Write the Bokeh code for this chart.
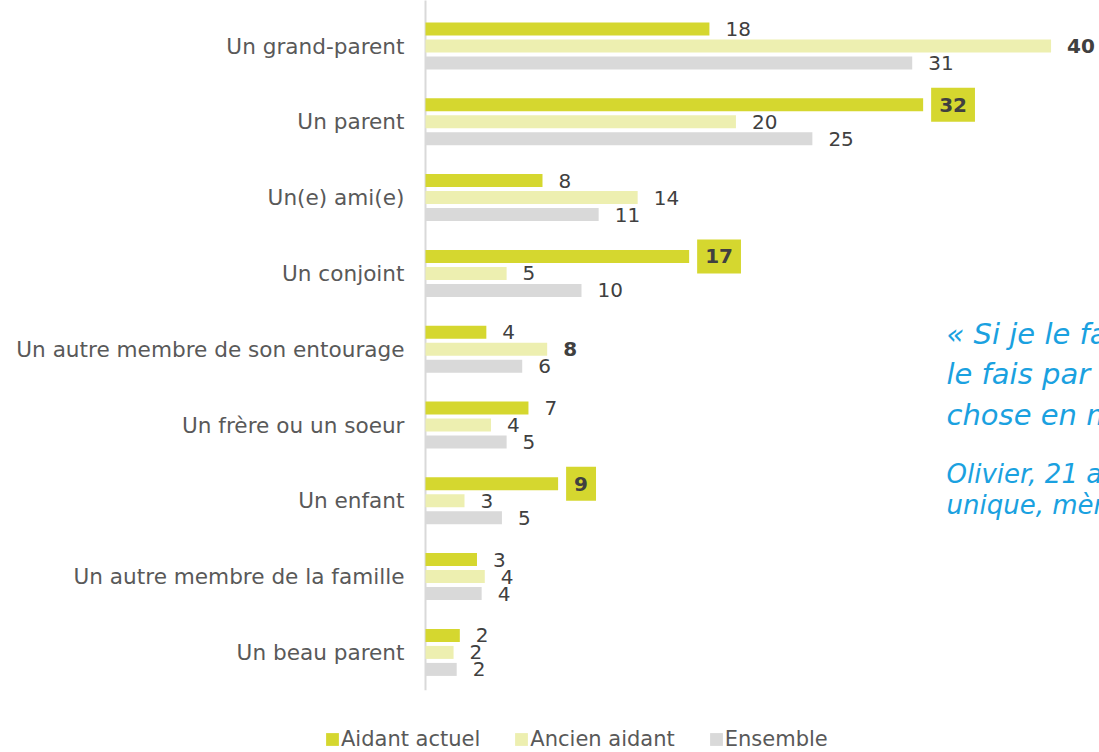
from bokeh.plotting import figure
from bokeh.models import Range1d, ColumnDataSource, Legend, LegendItem
from bokeh.embed import file_html
from bokeh.resources import INLINE
from bokeh.core.properties import value

# ---------------- data ----------------
categories = ["Un grand-parent", "Un parent", "Un(e) ami(e)", "Un conjoint",
              "Un autre membre de son entourage", "Un frère ou un soeur", "Un enfant",
              "Un autre membre de la famille", "Un beau parent"]
aidant_actuel = [18.2, 31.9, 7.5, 16.9, 3.9, 6.6, 8.5, 3.3, 2.2]
ancien_aidant = [40.1, 19.9, 13.6, 5.2, 7.8, 4.2, 2.5, 3.8, 1.8]
ensemble = [31.2, 24.8, 11.1, 10.0, 6.2, 5.2, 4.9, 3.6, 2.0]
series_names = ["Aidant actuel", "Ancien aidant", "Ensemble"]

quote_lines = ["« Si je le fais, c'est que je", "le fais par amour, c'est quelque", "chose en moi. »"]
author_lines = ["Olivier, 21 ans, fils", "unique, mère malade"]

# ---------------- styles ----------------
colors = ["#d5d72f", "#edefb0", "#d9d9d9"]
boxed = {(0, "Un parent"), (0, "Un conjoint"), (0, "Un enfant")}
bold = {(1, "Un grand-parent"), (1, "Un autre membre de son entourage")}
FONT = "DejaVu Sans"
LABEL_COLOR = "#404040"
CAT_COLOR = "#595959"
QUOTE_COLOR = "#1aa1e0"

W, H = 1099, 752
AXIS_PX = 425          # x pixel of the zero line
GROUP_PX = 75.8
BAR_GAP_PX = 17.0
BAR_H_PX = 13.0
PX_PER_UNIT = 15.6
TOP_CENTER_PX = 45.5   # centre of first group from the top

n = len(categories)
y_start = (H - TOP_CENTER_PX) / GROUP_PX
y_end = -TOP_CENTER_PX / GROUP_PX
x_start = -AXIS_PX / PX_PER_UNIT
x_end = (W - AXIS_PX) / PX_PER_UNIT

def ypx(py):
    return (py - TOP_CENTER_PX) / GROUP_PX

def xpx(px):
    return (px - AXIS_PX) / PX_PER_UNIT

p = figure(width=W, height=H, output_backend="svg", toolbar_location=None,
           x_range=Range1d(x_start, x_end), y_range=Range1d(y_start, y_end),
           x_axis_location=None, y_axis_location=None,
           min_border_left=0, min_border_right=0, min_border_top=0, min_border_bottom=0,
           background_fill_color="white", border_fill_color="white")
p.outline_line_color = None
p.grid.visible = False

# category labels (left of the zero line)
p.text(x=[0] * n, y=list(range(n)), text=categories, x_offset=-21, text_align="right",
       text_baseline="middle", text_font=value(FONT), text_font_size="21.6px",
       text_color=CAT_COLOR)

# vertical baseline
p.segment(x0=[0], y0=[y_end - 0.2], x1=[0], y1=[n - 0.5], line_color="#d9d9d9", line_width=2)

series = [aidant_actuel, ancien_aidant, ensemble]
renderers = []
off_unit = BAR_GAP_PX / GROUP_PX
for k, vals in enumerate(series):
    ys = [i + (k - 1) * off_unit for i in range(n)]
    src = ColumnDataSource(dict(y=ys, right=vals))
    r = p.hbar(y="y", left=0, right="right", height=BAR_H_PX / GROUP_PX, source=src,
               fill_color=colors[k], line_color=None)
    renderers.append(r)

    groups = {"normal": dict(x=[], y=[], t=[]), "bold": dict(x=[], y=[], t=[]),
              "boxed": dict(x=[], y=[], t=[])}
    for i, v in enumerate(vals):
        key = (k, categories[i])
        g = "boxed" if key in boxed else ("bold" if key in bold else "normal")
        groups[g]["x"].append(v)
        groups[g]["y"].append(ys[i])
        groups[g]["t"].append(str(int(v + 0.5)))
    for g, d in groups.items():
        if not d["x"]:
            continue
        s = ColumnDataSource(d)
        kw = dict(x="x", y="y", text="t", source=s, x_offset=16,
                  text_align="left", text_baseline="middle", text_font=value(FONT),
                  text_font_size="20px", text_color=LABEL_COLOR)
        if g in ("bold", "boxed"):
            kw["text_font_style"] = "bold"
        if g == "boxed":
            kw["background_fill_color"] = colors[0]
            kw["padding"] = (8, 10)
            kw["x_offset"] = 8
        p.text(**kw)

# quote text (clipped at the right edge)
qx = xpx(946)
p.text(x=[qx] * len(quote_lines), y=[ypx(333), ypx(373.5), ypx(414)], text=quote_lines,
       text_align="left", text_baseline="middle", text_font=value(FONT),
       text_font_size="29px", text_font_style="italic", text_color=QUOTE_COLOR)
p.text(x=[qx] * len(author_lines), y=[ypx(473.5), ypx(504)], text=author_lines,
       text_align="left", text_baseline="middle", text_font=value(FONT),
       text_font_size="26px", text_font_style="italic", text_color=QUOTE_COLOR)

legend = Legend(items=[LegendItem(label=series_names[k], renderers=[renderers[k]]) for k in range(3)],
                orientation="horizontal", location=(324, 1), glyph_width=16, glyph_height=16,
                label_standoff=1, spacing=33, padding=0, margin=0,
                border_line_color=None, background_fill_alpha=0,
                label_text_font=FONT, label_text_font_size="21px", label_text_color=CAT_COLOR)
p.add_layout(legend, "center")

open("out.html", "w").write(file_html(p, INLINE))
